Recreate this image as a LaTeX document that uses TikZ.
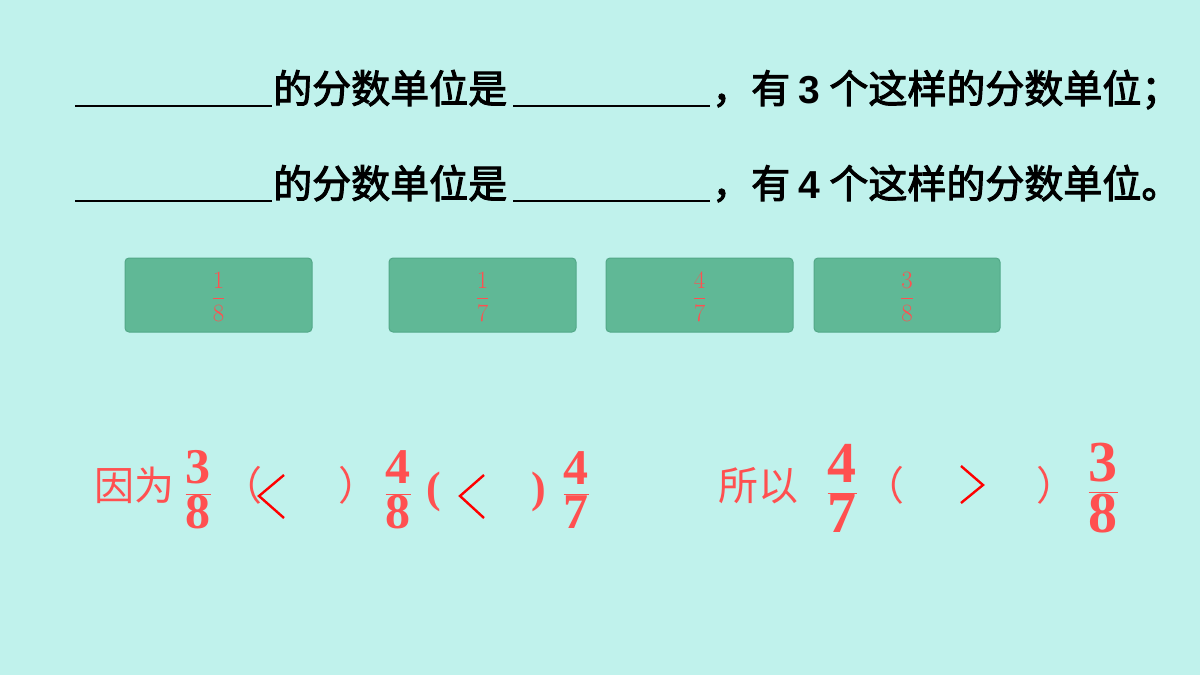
\documentclass[tikz,border=0pt]{standalone}
\usepackage{fontspec}
\setmainfont{Liberation Serif}
\newfontfamily\cjk[AutoFakeBold=2.5]{Noto Sans CJK SC}
\newfontfamily\sansb{Liberation Sans Bold}
\definecolor{bg}{HTML}{C0F2EC}
\definecolor{boxg}{HTML}{60B896}
\definecolor{boxe}{HTML}{52A888}
\definecolor{fred}{HTML}{FF5050}
\tikzset{
  cardbox/.style={draw=boxe, fill=boxg, rounded corners=4pt, line width=1pt},
  head/.style={anchor=base west, inner sep=0pt, font=\fontsize{39}{39}\selectfont\bfseries},
  blank/.style={line width=1.6pt},
  small frac/.style={text=fred, inner sep=0pt, font=\fontsize{26}{30}\selectfont},
  big frac/.style={text=fred, inner sep=0pt, font=\fontsize{50}{56}\selectfont},
  redtxt/.style={text=fred, inner sep=0pt, anchor=base west, font=\fontsize{40}{40}\selectfont},
  cmpmark/.style={red, line width=2.4pt}
}
\begin{document}
\begin{tikzpicture}[x=1pt,y=-1pt]
\fill[bg] (0,0) rectangle (1200,675);
\useasboundingbox (0,0) rectangle (1200,675);
% first line
\draw[blank] (75,106) coordinate (b1) -- (272,106) coordinate (b2);
\node[head] (t1) at (273,103) {\cjk 的分数单位是};
\draw[blank] (513,106) coordinate (b3) -- (710,106) coordinate (b4);
\node[head] (t2) at (712,103) {\cjk ，有 {\sansb 3} 个这样的分数单位；};
% second line
\draw[blank] (75,201) coordinate (b5) -- (272,201) coordinate (b6);
\node[head] (t3) at (273,198) {\cjk 的分数单位是};
\draw[blank] (513,201) coordinate (b7) -- (710,201) coordinate (b8);
\node[head] (t4) at (712,198) {\cjk ，有 {\sansb 4} 个这样的分数单位。};
% cards
\draw[cardbox] (125,258) rectangle (312,332);
\draw[cardbox] (389,258) rectangle (576,332);
\draw[cardbox] (606,258) rectangle (793,332);
\draw[cardbox] (814,258) rectangle (1000,332);
\node[small frac] (c1) at (218.5,297) {$\displaystyle\frac{1}{8}$};
\node[small frac] (c2) at (482.5,297) {$\displaystyle\frac{1}{7}$};
\node[small frac] (c3) at (699.5,297) {$\displaystyle\frac{4}{7}$};
\node[small frac] (c4) at (907,297) {$\displaystyle\frac{3}{8}$};
% because ...
\node[redtxt] (yw) at (94,500) {\cjk 因为};
\node[big frac] (f1) at (198,490) {$\displaystyle\mathbf{\frac{3}{8}}$};
\node[redtxt] (p1) at (222,500) {\cjk （};
\draw[cmpmark] (284,475) -- (259,496) -- (284,518);
\node[redtxt] (p2) at (338,500) {\cjk ）};
\node[big frac] (f2) at (398,490) {$\displaystyle\mathbf{\frac{4}{8}}$};
\node[redtxt, font=\fontsize{44}{44}\selectfont\bfseries] (p3) at (426,502) {(};
\draw[cmpmark] (484,475) -- (460,496) -- (484,518);
\node[redtxt, font=\fontsize{44}{44}\selectfont\bfseries] (p4) at (531,502) {)};
\node[big frac] (f3) at (576,490) {$\displaystyle\mathbf{\frac{4}{7}}$};
% so ...
\node[redtxt] (sy) at (718,500) {\cjk 所以};
\node[big frac, font=\fontsize{58}{64}\selectfont] (f4) at (842,488) {$\displaystyle\mathbf{\frac{4}{7}}$};
\node[redtxt] (p5) at (864,500) {\cjk （};
\draw[cmpmark] (961,466) -- (983,485) -- (961,503);
\node[redtxt] (p6) at (1036,500) {\cjk ）};
\node[big frac, font=\fontsize{58}{64}\selectfont] (f5) at (1103,488) {$\displaystyle\mathbf{\frac{3}{8}}$};
\end{tikzpicture}
\end{document}
